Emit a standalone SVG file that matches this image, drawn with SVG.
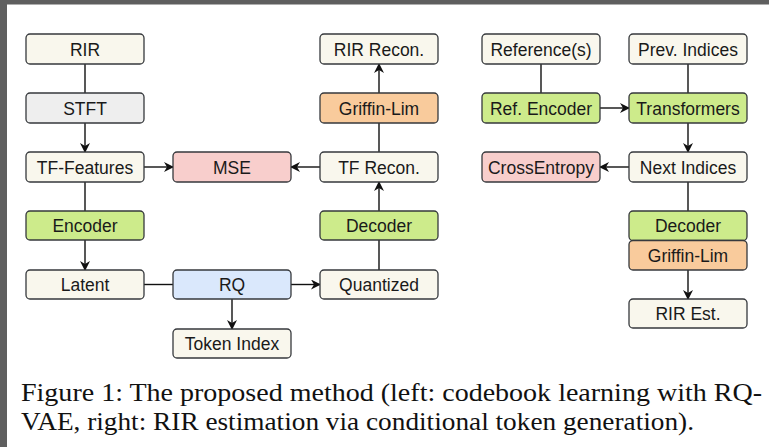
<svg xmlns="http://www.w3.org/2000/svg" width="769" height="447" viewBox="0 0 769 447">
  <style>
    .box { stroke: #36393d; stroke-width: 1.3; }
    .cream { fill: #f9f7ed; }
    .gray { fill: #eeeeee; }
    .green { fill: #cdeb8b; }
    .pink { fill: #f8cecc; }
    .blue { fill: #dae8fc; }
    .orange { fill: #f9cb9c; }
    .lbl { font-family: "Liberation Sans", Arial, sans-serif; font-size: 17.5px; fill: #1a1a1a; text-anchor: middle; }
    .cap { font-family: "Liberation Serif", "Times New Roman", serif; font-size: 25px; fill: #111; }
    .edge { stroke: #111; stroke-width: 1.4; fill: none; }
  </style>
  <defs>
    <marker id="arr" viewBox="0 0 10 10" refX="9" refY="5" markerWidth="10" markerHeight="10" markerUnits="userSpaceOnUse" orient="auto">
      <path d="M0,0 L10,5 L0,10 L3,5 z" fill="#111"/>
    </marker>
  </defs>

  <!-- page background and frame -->
  <rect x="0" y="0" width="769" height="447" fill="#ffffff"/>
  <rect x="0" y="0" width="769" height="4.5" fill="#5f5f5f"/>
  <rect x="0" y="0" width="7" height="447" fill="#5f5f5f"/>

  <!-- connectors -->
  <g id="connectors">
    <line class="edge" x1="85" y1="64" x2="85" y2="93"/>
    <line class="edge" x1="85" y1="123" x2="85" y2="152" marker-end="url(#arr)"/>
    <line class="edge" x1="144" y1="167" x2="173" y2="167" marker-end="url(#arr)"/>
    <line class="edge" x1="85" y1="182" x2="85" y2="211"/>
    <line class="edge" x1="85" y1="240" x2="85" y2="270" marker-end="url(#arr)"/>
    <line class="edge" x1="144" y1="284.5" x2="173" y2="284.5"/>
    <line class="edge" x1="291" y1="284.5" x2="320" y2="284.5" marker-end="url(#arr)"/>
    <line class="edge" x1="232" y1="299" x2="232" y2="329" marker-end="url(#arr)"/>
    <line class="edge" x1="379" y1="270" x2="379" y2="240"/>
    <line class="edge" x1="379" y1="211" x2="379" y2="182" marker-end="url(#arr)"/>
    <line class="edge" x1="320" y1="167" x2="291" y2="167" marker-end="url(#arr)"/>
    <line class="edge" x1="379" y1="152" x2="379" y2="123"/>
    <line class="edge" x1="379" y1="93" x2="379" y2="64" marker-end="url(#arr)"/>

    <line class="edge" x1="541" y1="64" x2="541" y2="93"/>
    <line class="edge" x1="688" y1="64" x2="688" y2="93"/>
    <line class="edge" x1="600" y1="108" x2="629" y2="108" marker-end="url(#arr)"/>
    <line class="edge" x1="688" y1="123" x2="688" y2="152" marker-end="url(#arr)"/>
    <line class="edge" x1="629" y1="167" x2="600" y2="167" marker-end="url(#arr)"/>
    <line class="edge" x1="688" y1="182" x2="688" y2="211"/>
    <line class="edge" x1="688" y1="270" x2="688" y2="299" marker-end="url(#arr)"/>
  </g>

  <!-- left: codebook learning -->
  <g id="rir"><rect class="box cream" x="26" y="34" width="118" height="30" rx="4"/><text class="lbl" x="85" y="55.5">RIR</text></g>
  <g id="stft"><rect class="box gray" x="26" y="93" width="118" height="30" rx="4"/><text class="lbl" x="85" y="114.5">STFT</text></g>
  <g id="tf-features"><rect class="box cream" x="26" y="152" width="118" height="30" rx="4"/><text class="lbl" x="85" y="173.5">TF-Features</text></g>
  <g id="mse"><rect class="box pink" x="173" y="152" width="118" height="30" rx="4"/><text class="lbl" x="232" y="173.5">MSE</text></g>
  <g id="encoder"><rect class="box green" x="26" y="211" width="118" height="29" rx="4"/><text class="lbl" x="85" y="232">Encoder</text></g>
  <g id="latent"><rect class="box cream" x="26" y="270" width="118" height="29" rx="4"/><text class="lbl" x="85" y="291">Latent</text></g>
  <g id="rq"><rect class="box blue" x="173" y="270" width="118" height="29" rx="4"/><text class="lbl" x="232" y="291">RQ</text></g>
  <g id="token-index"><rect class="box cream" x="173" y="329" width="118" height="29" rx="4"/><text class="lbl" x="232" y="350">Token Index</text></g>
  <g id="quantized"><rect class="box cream" x="320" y="270" width="118" height="29" rx="4"/><text class="lbl" x="379" y="291">Quantized</text></g>
  <g id="decoder"><rect class="box green" x="320" y="211" width="118" height="29" rx="4"/><text class="lbl" x="379" y="232">Decoder</text></g>
  <g id="tf-recon"><rect class="box cream" x="320" y="152" width="118" height="30" rx="4"/><text class="lbl" x="379" y="173.5">TF Recon.</text></g>
  <g id="griffin-lim"><rect class="box orange" x="320" y="93" width="118" height="30" rx="4"/><text class="lbl" x="379" y="114.5">Griffin-Lim</text></g>
  <g id="rir-recon"><rect class="box cream" x="320" y="34" width="118" height="30" rx="4"/><text class="lbl" x="379" y="55.5">RIR Recon.</text></g>

  <!-- right: RIR estimation -->
  <g id="references"><rect class="box cream" x="482" y="34" width="118" height="30" rx="4"/><text class="lbl" x="541" y="55.5">Reference(s)</text></g>
  <g id="prev-indices"><rect class="box cream" x="629" y="34" width="118" height="30" rx="4"/><text class="lbl" x="688" y="55.5">Prev. Indices</text></g>
  <g id="ref-encoder"><rect class="box green" x="482" y="93" width="118" height="30" rx="4"/><text class="lbl" x="541" y="114.5">Ref. Encoder</text></g>
  <g id="transformers"><rect class="box green" x="629" y="93" width="118" height="30" rx="4"/><text class="lbl" x="688" y="114.5">Transformers</text></g>
  <g id="cross-entropy"><rect class="box pink" x="482" y="152" width="118" height="30" rx="4"/><text class="lbl" x="541" y="173.5">CrossEntropy</text></g>
  <g id="next-indices"><rect class="box cream" x="629" y="152" width="118" height="30" rx="4"/><text class="lbl" x="688" y="173.5">Next Indices</text></g>
  <g id="decoder-est"><rect class="box green" x="629" y="211" width="118" height="29.5" rx="4"/><text class="lbl" x="688" y="232">Decoder</text></g>
  <g id="griffin-lim-est"><rect class="box orange" x="629" y="240.5" width="118" height="29.5" rx="4"/><text class="lbl" x="688" y="261.5">Griffin-Lim</text></g>
  <g id="rir-est"><rect class="box cream" x="629" y="299" width="118" height="29" rx="4"/><text class="lbl" x="688" y="320">RIR Est.</text></g>

  <!-- caption -->
  <text class="cap" x="21" y="401" textLength="741" lengthAdjust="spacingAndGlyphs">Figure 1: The proposed method (left: codebook learning with RQ-</text>
  <text class="cap" x="21" y="430" textLength="673" lengthAdjust="spacingAndGlyphs">VAE, right: RIR estimation via conditional token generation).</text>
</svg>
